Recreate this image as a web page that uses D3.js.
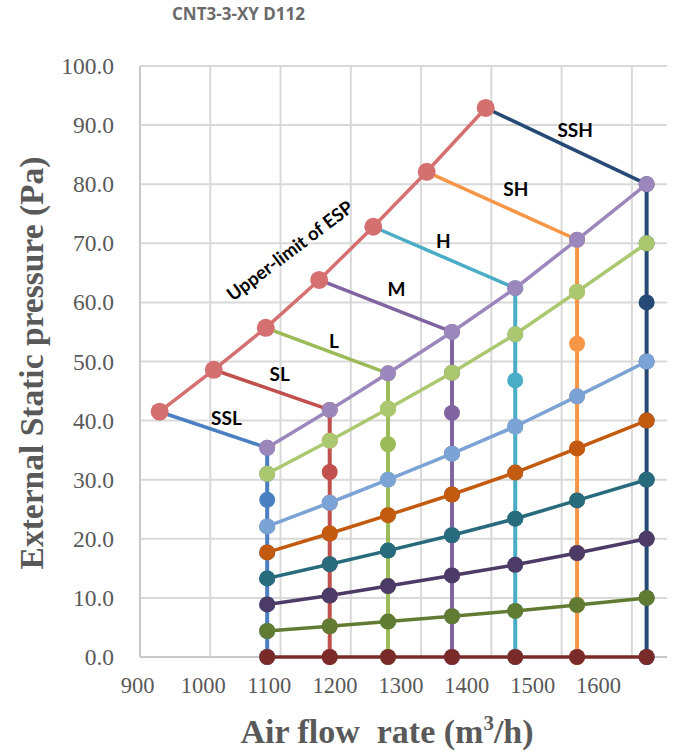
<!DOCTYPE html>
<html>
<head>
<meta charset="utf-8">
<script src="https://cdn.jsdelivr.net/npm/d3@7"></script>
<style>
  body { margin: 0; background: #fff; }
  svg { display: block; }
</style>
</head>
<body>
<svg id="chart" width="676" height="754"></svg>
<script>
// Air flow (m3/h) of each fan-speed column
const airflow = [1081, 1170, 1253, 1344, 1434, 1522, 1621];

// Static pressure (Pa) of each row of points, bottom to top
const row0 = [0, 0, 0, 0, 0, 0, 0];
const row1 = [4.4, 5.2, 6.0, 6.9, 7.8, 8.8, 10.0];
const row2 = [8.9, 10.4, 12.0, 13.8, 15.6, 17.6, 20.0];
const row3 = [13.3, 15.7, 18.0, 20.6, 23.4, 26.5, 30.0];
const row4 = [17.7, 20.9, 24.0, 27.5, 31.2, 35.3, 40.0];
const row5 = [22.1, 26.1, 30.0, 34.4, 39.0, 44.1, 50.0];
const row6 = [26.6, 31.3, 36.0, 41.3, 46.8, 53.0, 60.0];
const row7 = [31.0, 36.6, 42.0, 48.1, 54.6, 61.8, 70.0];
const row8 = [35.4, 41.8, 48.0, 55.0, 62.4, 70.6, 80.0];

// Upper limit of external static pressure for each speed
const upperFlow = [928, 1005, 1079, 1155, 1232, 1308, 1392];
const upperPressure = [41.5, 48.6, 55.7, 63.8, 72.8, 82.1, 92.9];

const speedNames = ["SSL", "SL", "L", "M", "H", "SH", "SSH"];
const speedColors = ["#4a7fc1", "#c0504d", "#9bbb59", "#8064a2", "#4bacc6", "#f79646", "#254a75"];

// Rows drawn as connected lines (row6 shows only as column markers)
const rowValues = [row0, row1, row2, row3, row4, row5, row7, row8];
const rowColors = ["#7a2b29", "#617c32", "#4c3b67", "#276b7d", "#c25b0f", "#7ba3d5", "#abc870", "#9c87bd"];
const upperColor = "#d4706f";

const xTicks = [900, 1000, 1100, 1200, 1300, 1400, 1500, 1600];
const yTicks = [0, 10, 20, 30, 40, 50, 60, 70, 80, 90, 100];

const svg = d3.select("#chart");
const x = d3.scaleLinear().domain([900, 1650]).range([140, 667]);
const y = d3.scaleLinear().domain([0, 100]).range([657, 66]);
// tick label placement along the bottom
const xLabel = d3.scaleLinear().domain([900, 1600]).range([137, 598]);

const serif = "'Liberation Serif', 'Times New Roman', serif";
const label = "Lato, 'Noto Sans', sans-serif";

// Title
svg.append("text")
  .attr("x", 172).attr("y", 20)
  .attr("font-family", "'Open Sans', sans-serif")
  .attr("font-weight", 700).attr("font-size", 17)
  .attr("fill", "#6a6a6a")
  .text("CNT3-3-XY D112");

// Gridlines
const grid = svg.append("g");
grid.selectAll("line.h").data(yTicks).join("line")
  .attr("x1", x(900)).attr("x2", x(1650))
  .attr("y1", d => y(d)).attr("y2", d => y(d))
  .attr("stroke", d => d === 0 ? "#c8c8c8" : "#d9d9d9").attr("stroke-width", 2);
grid.selectAll("line.v").data(xTicks).join("line")
  .attr("x1", d => x(d)).attr("x2", d => x(d))
  .attr("y1", y(0)).attr("y2", y(100))
  .attr("stroke", d => d === 900 ? "#c8c8c8" : "#d9d9d9").attr("stroke-width", 2);

// Y axis labels
const yAxis = svg.append("g").attr("transform", "translate(114,0)")
  .call(d3.axisLeft(y).tickValues(yTicks).tickFormat(d3.format(".1f")).tickSize(0).tickPadding(0));
yAxis.select(".domain").remove();
yAxis.selectAll("text")
  .attr("font-family", serif).attr("font-size", 23.5).attr("fill", "#595959")
  .attr("text-anchor", "end");

// X axis labels
const xAxis = svg.append("g").attr("transform", "translate(0,677)")
  .call(d3.axisBottom(xLabel).tickValues(xTicks).tickFormat(d3.format("d")).tickSize(0).tickPadding(0));
xAxis.select(".domain").remove();
xAxis.selectAll("text")
  .attr("font-family", serif).attr("font-size", 22.5).attr("fill", "#595959");

// Axis titles
svg.append("text")
  .attr("transform", "translate(43,363) rotate(-90)")
  .attr("text-anchor", "middle")
  .attr("font-family", serif).attr("font-weight", 700).attr("font-size", 33.5)
  .attr("fill", "#595959")
  .text("External Static pressure (Pa)");

const xTitle = svg.append("text")
  .attr("x", 387).attr("y", 743)
  .attr("text-anchor", "middle")
  .attr("font-family", serif).attr("font-weight", 700).attr("font-size", 34)
  .attr("fill", "#595959")
  .attr("xml:space", "preserve");
xTitle.append("tspan").text("Air flow  rate (m");
xTitle.append("tspan").attr("font-size", 21).attr("dy", -13).text("3");
xTitle.append("tspan").attr("dy", 13).text("/h)");

const line = d3.line().x(d => x(d[0])).y(d => y(d[1]));
const plot = svg.append("g");
const R = 8;

// Vertical line of each speed column with its own markers
airflow.forEach((f, i) => {
  const pts = rowValues.concat([row6]).map(r => [f, r[i]]).sort((a, b) => a[1] - b[1]);
  plot.append("path").datum(pts)
    .attr("d", line).attr("fill", "none")
    .attr("stroke", speedColors[i]).attr("stroke-width", 4);
  plot.selectAll(null).data(pts).join("circle")
    .attr("cx", d => x(d[0])).attr("cy", d => y(d[1])).attr("r", R)
    .attr("fill", speedColors[i]);
});

// Line from the upper limit to the top point of each column
airflow.forEach((f, i) => {
  plot.append("path").datum([[upperFlow[i], upperPressure[i]], [f, row8[i]]])
    .attr("d", line).attr("fill", "none")
    .attr("stroke", speedColors[i]).attr("stroke-width", 3.5);
});

// Upper-limit line
const upperPts = upperFlow.map((f, i) => [f, upperPressure[i]]);
plot.append("path").datum(upperPts)
  .attr("d", line).attr("fill", "none")
  .attr("stroke", upperColor).attr("stroke-width", 3.5);

// Rows of equal fractional pressure across the columns
rowValues.forEach((r, k) => {
  const pts = airflow.map((f, i) => [f, r[i]]);
  plot.append("path").datum(pts)
    .attr("d", line).attr("fill", "none")
    .attr("stroke", rowColors[k]).attr("stroke-width", 3.5);
  plot.selectAll(null).data(pts).join("circle")
    .attr("cx", d => x(d[0])).attr("cy", d => y(d[1])).attr("r", R)
    .attr("fill", rowColors[k]);
});

// Upper-limit markers
plot.selectAll(null).data(upperPts).join("circle")
  .attr("cx", d => x(d[0])).attr("cy", d => y(d[1])).attr("r", 9)
  .attr("fill", upperColor);

// Speed names beside their lines, nudged off the line midpoints
const nameDx = [13, 8, 7, 11, -1, 14, 9];
const nameDy = [-12, -16, -10, -17, -17, -17, -17];
speedNames.forEach((name, i) => {
  const mx = (x(upperFlow[i]) + x(airflow[i])) / 2 + nameDx[i];
  const my = (y(upperPressure[i]) + y(row8[i])) / 2 + nameDy[i];
  svg.append("text")
    .attr("x", mx).attr("y", my)
    .attr("text-anchor", "middle").attr("dominant-baseline", "central")
    .attr("font-family", label).attr("font-weight", 700).attr("font-size", 19)
    .attr("fill", "#000")
    .text(name);
});

svg.append("text")
  .attr("transform", `translate(${x(1113)},${y(68.8)}) rotate(-37)`)
  .attr("text-anchor", "middle").attr("dominant-baseline", "central")
  .attr("font-family", label).attr("font-weight", 700).attr("font-size", 18.5)
  .attr("fill", "#000")
  .text("Upper-limit of ESP");
</script>
</body>
</html>
